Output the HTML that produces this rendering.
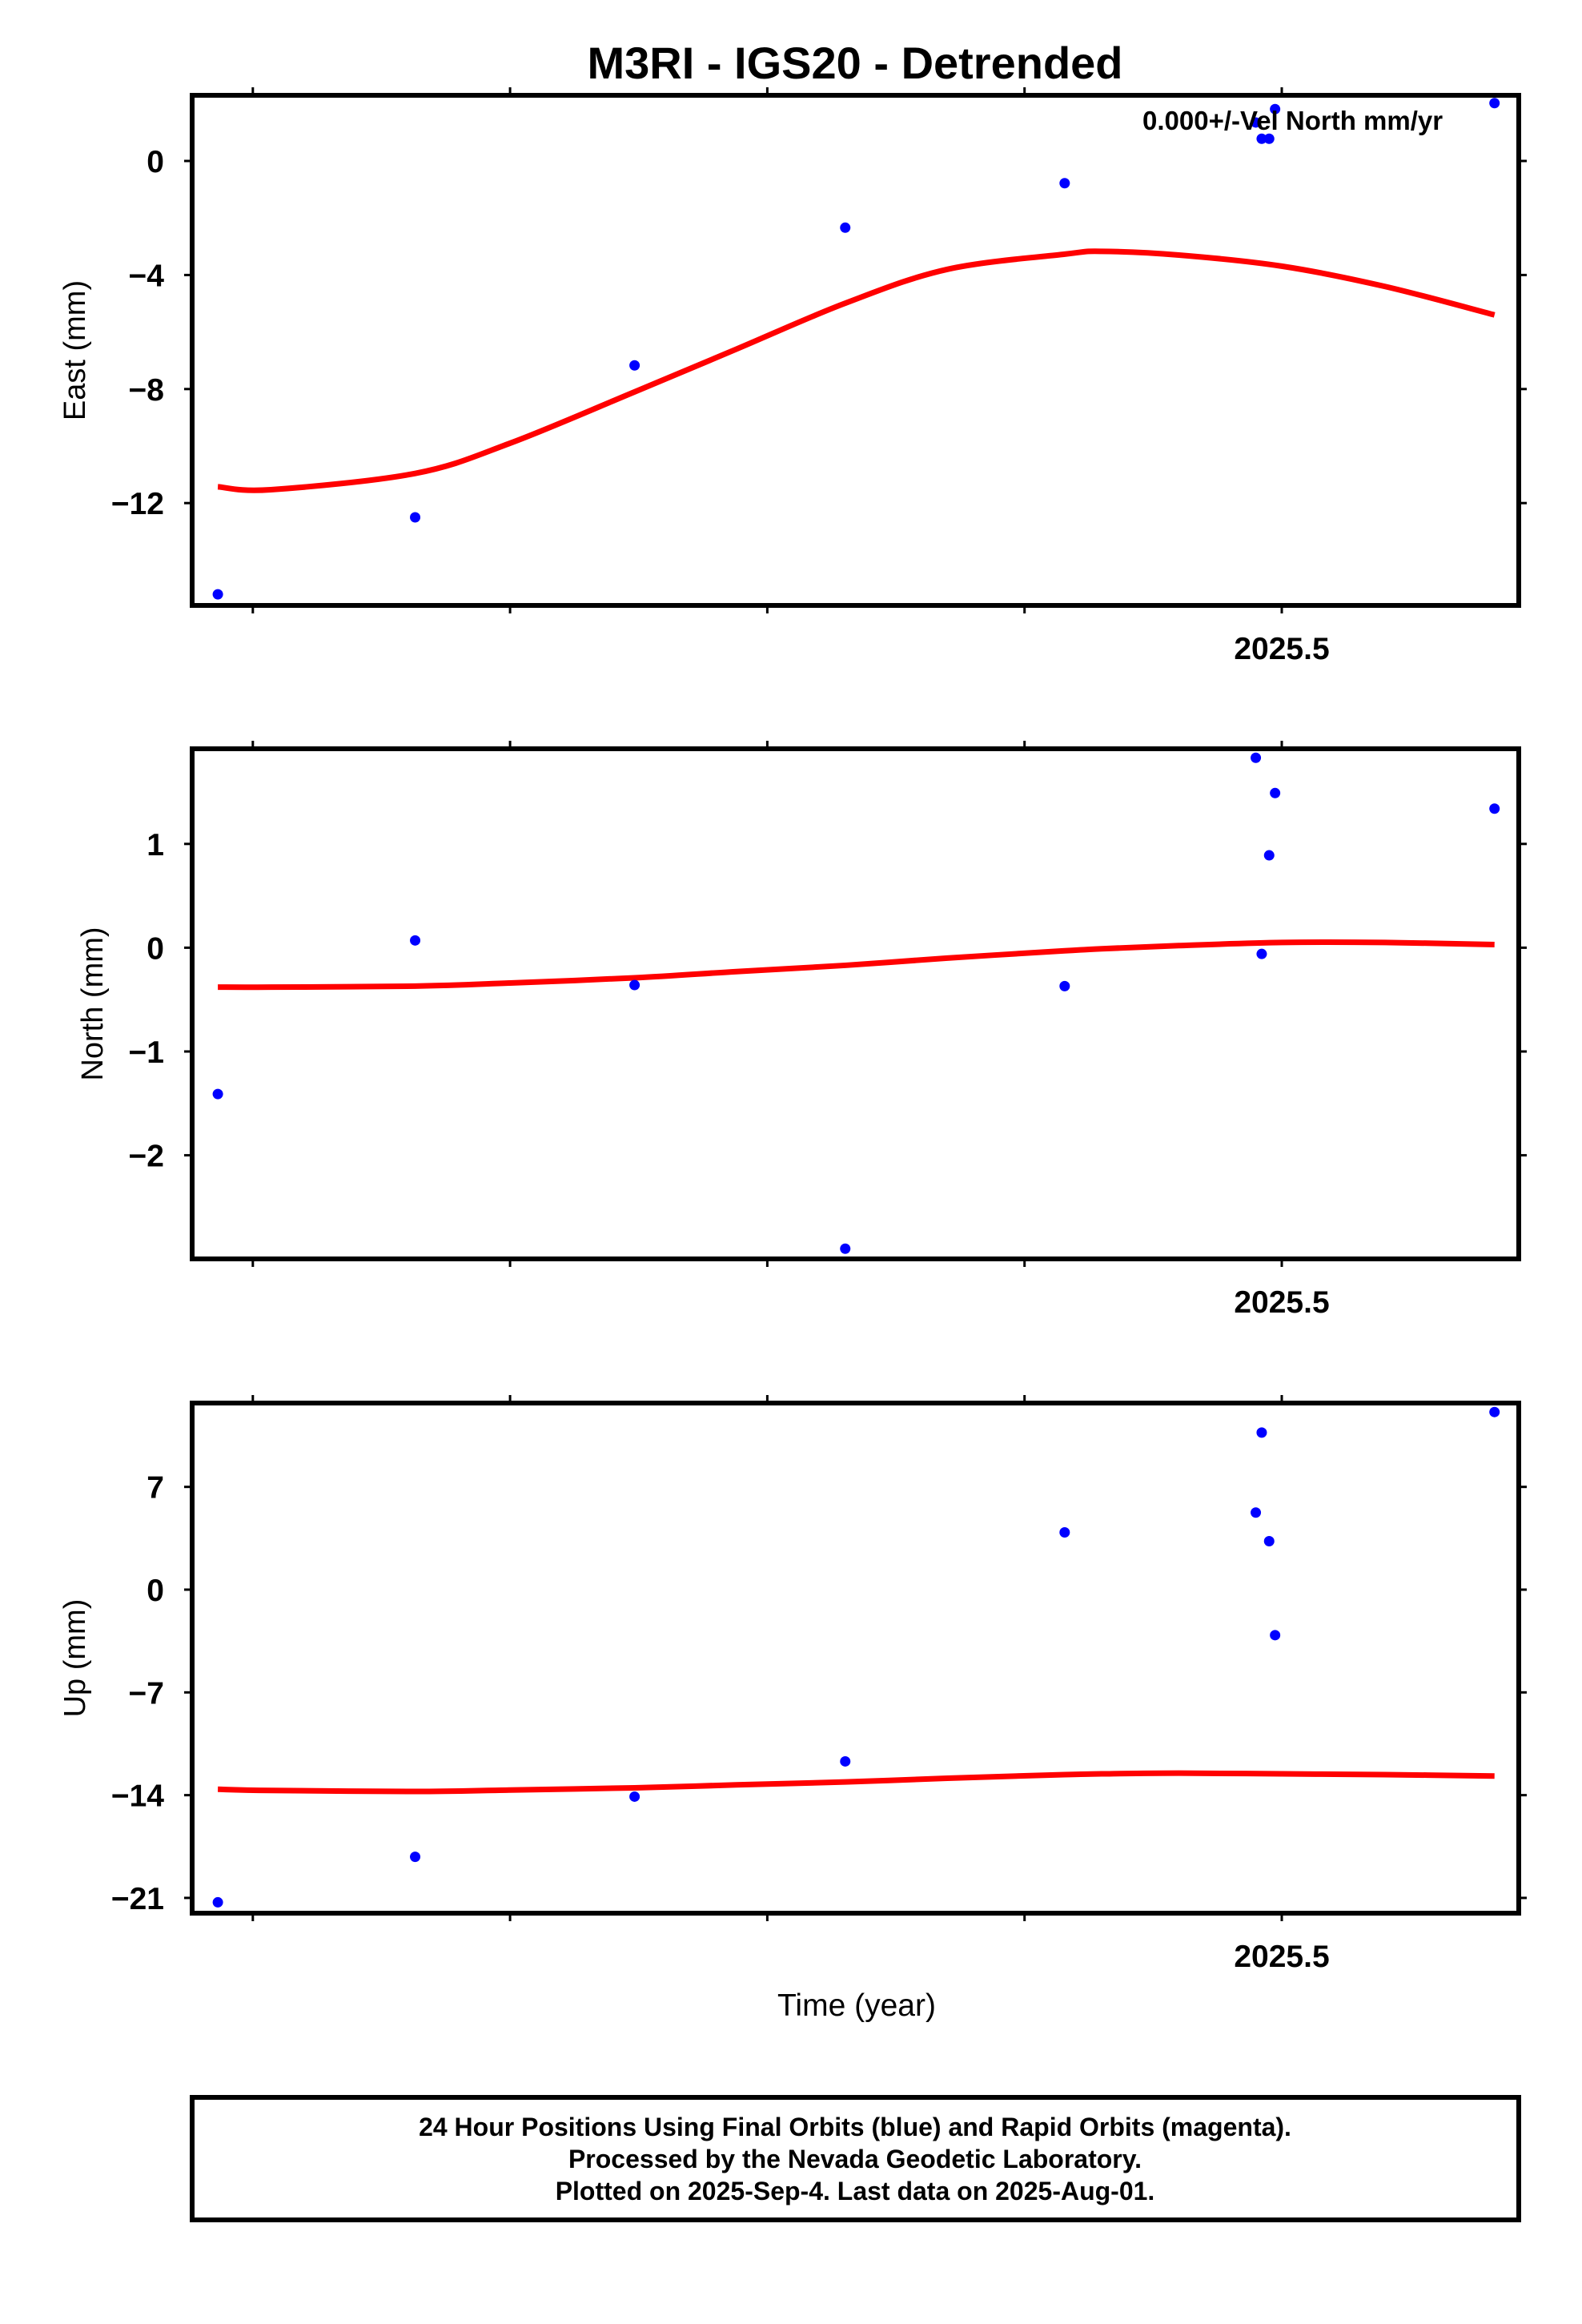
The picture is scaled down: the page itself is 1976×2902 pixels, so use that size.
<!DOCTYPE html>
<html><head><meta charset="utf-8"><style>
html,body{margin:0;padding:0;background:#fff}
svg{display:block}
text{font-family:"Liberation Sans",Arial,sans-serif}
</style></head><body>
<svg id="chart" width="1976" height="2902" viewBox="0 0 1976 2902" xmlns="http://www.w3.org/2000/svg">
<text x="1068" y="98" font-size="56" font-weight="bold" text-anchor="middle">M3RI - IGS20 - Detrended</text>
<g id="panels"></g>
<text x="1070" y="2517" font-size="39" text-anchor="middle">Time (year)</text>
<g>
<rect x="240" y="2619" width="1657" height="153" fill="none" stroke="#000" stroke-width="6"/>
<text x="1068" y="2667" font-size="32" font-weight="bold" text-anchor="middle">24 Hour Positions Using Final Orbits (blue) and Rapid Orbits (magenta).</text>
<text x="1068" y="2707" font-size="32" font-weight="bold" text-anchor="middle">Processed by the Nevada Geodetic Laboratory.</text>
<text x="1068" y="2747" font-size="32" font-weight="bold" text-anchor="middle">Plotted on 2025-Sep-4. Last data on 2025-Aug-01.</text>
</g>
</svg>
<script>
// ---- data ----
const dataYears = [2025.0864, 2025.1631, 2025.2484, 2025.3303, 2025.4156, 2025.4899, 2025.4922, 2025.4951, 2025.4974, 2025.5827];
const eastValues = [-15.2, -12.5, -7.17, -2.34, -0.78, 1.35, 0.78, 0.78, 1.82, 2.03];
const northValues = [-1.41, 0.07, -0.36, -2.9, -0.37, 1.83, -0.06, 0.89, 1.49, 1.34];
const upValues = [-21.3, -18.2, -14.1, -11.7, 3.9, 5.25, 10.7, 3.3, -3.1, 12.1];
const fitYears = [2025.0864, 2025.107, 2025.1631, 2025.20, 2025.2484, 2025.288, 2025.3303, 2025.37, 2025.4156, 2025.43, 2025.46, 2025.5, 2025.54, 2025.5827];
const eastFit = [-11.43, -11.53, -10.96, -9.9, -8.1, -6.6, -4.99, -3.8, -3.27, -3.17, -3.3, -3.69, -4.4, -5.4];
const northFit = [-0.38, -0.38, -0.37, -0.34, -0.29, -0.23, -0.17, -0.1, -0.03, -0.01, 0.02, 0.05, 0.05, 0.03];
const upFit = [-13.6, -13.68, -13.75, -13.65, -13.5, -13.3, -13.1, -12.85, -12.6, -12.55, -12.5, -12.55, -12.6, -12.7];
const xTickYears = [2025.1, 2025.2, 2025.3, 2025.4, 2025.5];
const xTickLabels = ["", "", "", "", "2025.5"];
const eastTicks = [0, -4, -8, -12];
const northTicks = [1, 0, -1, -2];
const upTicks = [7, 0, -7, -14, -21];

const NS = "http://www.w3.org/2000/svg";
const L = 240, R = 1897;
function xScale(yr){ return 1601 + (yr - 2025.5) * 3213; }
function mk(tag, attrs, parent){ const e = document.createElementNS(NS, tag); for (const k in attrs) e.setAttribute(k, attrs[k]); parent.appendChild(e); return e; }

const panels = [
  {name:"east", title:"East (mm)", top:119, zeroY:201, ppm:35.6, vals:eastValues, fit:eastFit, ticks:eastTicks, tx:94, note:true},
  {name:"north", title:"North (mm)", top:935, zeroY:1183.4, ppm:129.6, vals:northValues, fit:northFit, ticks:northTicks, tx:116},
  {name:"up", title:"Up (mm)", top:1752, zeroY:1985, ppm:18.33, vals:upValues, fit:upFit, ticks:upTicks, tx:94}
];
const root = document.getElementById("panels");
panels.forEach(p => {
  const H = 637, bot = p.top + H;
  const yScale = v => p.zeroY - v * p.ppm;
  const g = mk("g", {}, root);
  
  
  const clipId = "clip-" + p.name;
  const cp = mk("clipPath", {id: clipId}, g);
  mk("rect", {x: L, y: p.top, width: R - L, height: H}, cp);
  // x ticks
  xTickYears.forEach((yr, i) => {
    const x = xScale(yr);
    const t1 = mk("line", {x1:x, x2:x, y1:p.top-10, y2:p.top, stroke:"#000", "stroke-width":3}, g);
    
    
    const t2 = mk("line", {x1:x, x2:x, y1:bot, y2:bot+10, stroke:"#000", "stroke-width":3}, g);
    
    
    if (xTickLabels[i]) {
      const tl = mk("text", {x:x, y:bot+67, "font-size":39, "font-weight":"bold", "text-anchor":"middle"}, g);
      tl.textContent = xTickLabels[i];
      
      
    }
  });
  // y ticks
  p.ticks.forEach(v => {
    const y = yScale(v);
    const a = mk("line", {x1:L-10, x2:L, y1:y, y2:y, stroke:"#000", "stroke-width":3}, g);
    
    
    const b = mk("line", {x1:R, x2:R+10, y1:y, y2:y, stroke:"#000", "stroke-width":3}, g);
    
    
    const t = mk("text", {x:205, y:y+14, "font-size":39, "font-weight":"bold", "text-anchor":"end"}, g);
    t.textContent = v < 0 ? "\u2212" + Math.abs(v) : String(v);
    
    
  });
  // axis title
  const at = mk("text", {x:p.tx, y:p.top + H/2, "font-size":38, "text-anchor":"middle", transform:"rotate(-90 " + p.tx + " " + (p.top + H/2) + ")", "dominant-baseline":"central"}, g);
  at.textContent = p.title;
  
  
  // fit curve (Catmull-Rom smoothing)
  const pts = fitYears.map((yr, i) => [xScale(yr), yScale(p.fit[i])]);
  let d = "M" + pts[0][0] + "," + pts[0][1];
  for (let i = 0; i < pts.length - 1; i++) {
    const p0 = pts[Math.max(0, i-1)], p1 = pts[i], p2 = pts[i+1], p3 = pts[Math.min(pts.length-1, i+2)];
    const c1 = [p1[0] + (p2[0]-p0[0])/6, p1[1] + (p2[1]-p0[1])/6];
    const c2 = [p2[0] - (p3[0]-p1[0])/6, p2[1] - (p3[1]-p1[1])/6];
    d += " C" + c1[0] + "," + c1[1] + " " + c2[0] + "," + c2[1] + " " + p2[0] + "," + p2[1];
  }
  const fit = mk("path", {d:d, fill:"none", stroke:"#ff0000", "stroke-width":7, "clip-path":"url(#" + clipId + ")"}, g);
  
  
  // points
  dataYears.forEach((yr, i) => {
    const c = mk("circle", {cx:xScale(yr), cy:yScale(p.vals[i]), r:6.5, fill:"#0000ff"}, g);
    
    
  });
  if (p.note) {
    const n = mk("text", {x:1427, y:162, "font-size":33, "font-weight":"bold"}, g);
    n.textContent = "0.000+/-Vel North mm/yr";
    
    
  }
  // frame
  const fr = mk("rect", {x:L, y:p.top, width:R-L, height:H, fill:"none", stroke:"#000", "stroke-width":6}, g);
  
  
});
</script>
</body></html>
